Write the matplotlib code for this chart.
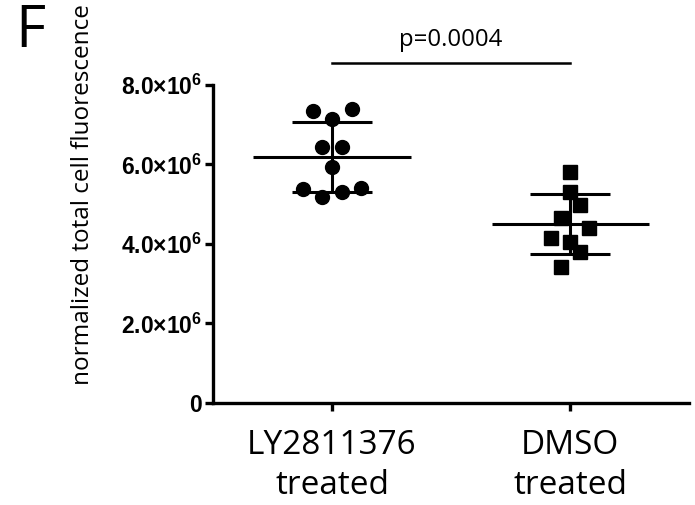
import matplotlib.pyplot as plt
from matplotlib.ticker import FuncFormatter
import numpy as np

# values (total cell fluorescence)
groups = ["LY2811376\ntreated", "DMSO\ntreated"]
ly_values = [7.33e6, 7.38e6, 7.13e6, 6.43e6, 6.43e6, 5.93e6, 5.38e6, 5.18e6, 5.30e6, 5.40e6]
ly_spread = [-1, 1, 0, -0.5, 0.5, 0, -1.5, -0.5, 0.5, 1.5]
dmso_values = [5.80e6, 5.30e6, 4.98e6, 4.65e6, 4.40e6, 4.15e6, 4.05e6, 3.80e6, 3.43e6]
dmso_spread = [0, 0, 1, -1, 2, -2, 0, 1, -1]
p_text = "p=0.0004"
yticks = [0, 2e6, 4e6, 6e6, 8e6]


def tick_fmt(v, pos):
    if v == 0:
        return "0"
    return f"{v / 1e6:.1f}\u00d710$^{{6}}$"


def main():
    plt.rcParams["mathtext.default"] = "regular"
    fig = plt.figure(figsize=(6.95, 5.05), dpi=100)
    ax = fig.add_axes([0.3065, 0.202, 0.685, 0.63])

    lw = 2.2
    ly = np.array(ly_values)
    dm = np.array(dmso_values)
    ax.plot(0 + 0.082 * np.array(ly_spread), ly, "o", color="black",
            markersize=10, zorder=3, clip_on=False)
    ax.plot(1 + 0.04 * np.array(dmso_spread), dm, "s", color="black",
            markersize=9.5, zorder=3, clip_on=False)

    for i, vals in enumerate([ly, dm]):
        m = vals.mean()
        sd = vals.std(ddof=1)
        ax.hlines(m, i - 0.33, i + 0.33, color="black", lw=lw, zorder=4)
        ax.errorbar(i, m, yerr=sd, color="black", elinewidth=lw,
                    capsize=28.5, capthick=lw, zorder=4)

    # significance bar above the axes
    ax.plot([0, 1], [8.55e6, 8.55e6], color="black", lw=1.8, clip_on=False)
    ax.text(0.5, 8.82e6, p_text, ha="center", va="bottom",
            fontsize=17.3, family="Open Sans")

    ax.set_xlim(-0.5, 1.5)
    ax.set_ylim(0, 8e6)
    ax.set_yticks(yticks)
    ax.yaxis.set_major_formatter(FuncFormatter(tick_fmt))
    ax.set_xticks([0, 1])
    ax.set_xticklabels(groups, fontsize=24, family="Open Sans", linespacing=1.25)

    for side in ["top", "right"]:
        ax.spines[side].set_visible(False)
    for side in ["left", "bottom"]:
        ax.spines[side].set_linewidth(2.4)
    ax.tick_params(axis="both", width=2.4, length=6, direction="out")
    ax.tick_params(axis="x", pad=13)
    ax.tick_params(axis="y", pad=2)
    for lab in ax.get_yticklabels():
        lab.set_fontfamily("Liberation Sans")
        lab.set_fontweight("bold")
        lab.set_fontsize(16.5)

    fig.text(0.12, 0.614, "normalized total cell fluorescence", rotation=90,
             ha="center", va="center", fontsize=17.5, family="Open Sans")
    fig.text(0.022, 0.995, "F", ha="left", va="top", fontsize=42,
             family="Open Sans")

    fig.savefig("out.png", dpi=100)


if __name__ == "__main__":
    main()
